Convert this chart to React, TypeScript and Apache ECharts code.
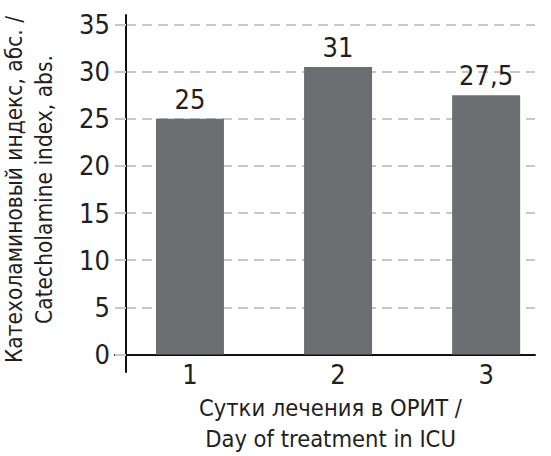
import React, { useEffect, useRef } from "react";
import * as echarts from "echarts";

const categories = ["1", "2", "3"];
const values = [25, 30.5, 27.5];
const valueLabels = ["25", "31", "27,5"];
const xName = "Сутки лечения в ОРИТ /\nDay of treatment in ICU";
const yName = "Катехоламиновый индекс, абс. /\nCatecholamine index, abs.";

const FONT = "'Liberation Sans Narrow', 'DejaVu Sans Condensed', sans-serif";
const TEXT = "#231f20";

export default function App() {
  const ref = useRef<HTMLDivElement>(null);
  useEffect(() => {
    if (!ref.current) return;
    const chart = echarts.init(ref.current, undefined, { renderer: "svg" });
    const positions = categories.map((_, i) => i + 1);
    chart.setOption({
      animation: false,
      textStyle: { fontFamily: FONT, color: TEXT },
      grid: [
        { left: 126, right: 16, top: 24.5, bottom: 101.5, outerBoundsMode: "none", containLabel: false },
        { left: 126, right: 16, top: 15, bottom: 84, outerBoundsMode: "none", containLabel: false },
        { left: 115, right: 16, top: 24.5, bottom: 101.5, outerBoundsMode: "none", containLabel: false },
      ],
      xAxis: [
        {
          type: "value",
          gridIndex: 0,
          min: 0.568,
          max: 3.33,
          splitLine: { show: false },
          axisLine: { show: false },
          axisTick: { show: false },
          axisLabel: {
            customValues: positions,
            formatter: (v: number) => categories[Math.round(v) - 1] ?? "",
            fontSize: 27,
            fontFamily: FONT,
            color: TEXT,
            margin: 6,
          },
          name: xName,
          nameLocation: "middle",
          nameGap: 35,
          nameTextStyle: { fontSize: 23.5, fontFamily: FONT, color: TEXT, lineHeight: 31 },
        },
        { type: "value", gridIndex: 1, show: false, min: 0, max: 1 },
        {
          type: "value",
          gridIndex: 2,
          min: 0,
          max: 1,
          axisLine: { show: true, onZero: false, lineStyle: { color: "#111", width: 2 } },
          axisTick: { show: false },
          axisLabel: { show: false },
          splitLine: { show: false },
        },
      ],
      yAxis: [
        {
          type: "value",
          gridIndex: 0,
          min: 0,
          max: 35,
          interval: 5,
          axisLine: { show: false },
          axisTick: { show: true, length: 11, lineStyle: { color: "#c8c8c8", width: 2 } },
          splitLine: { show: true, lineStyle: { color: "#c8c8c8", width: 2, type: [10, 6] } },
          axisLabel: { fontSize: 27, fontFamily: FONT, color: TEXT, margin: 16 },
          name: yName,
          nameLocation: "middle",
          nameRotate: 90,
          nameGap: 67,
          nameTextStyle: { fontSize: 22.5, fontFamily: FONT, color: TEXT, lineHeight: 30 },
        },
        {
          type: "value",
          gridIndex: 1,
          min: 0,
          max: 1,
          axisLine: { show: true, onZero: false, lineStyle: { color: "#111", width: 2 } },
          axisTick: { show: false },
          axisLabel: { show: false },
          splitLine: { show: false },
        },
        { type: "value", gridIndex: 2, show: false, min: 0, max: 1 },
      ],
      series: [
        {
          type: "bar",
          xAxisIndex: 0,
          yAxisIndex: 0,
          barWidth: 68,
          data: values.map((v, i) => [positions[i], v]),
          itemStyle: { color: "#6d6e71" },
          label: {
            show: true,
            position: "top",
            distance: 6,
            fontSize: 27,
            fontFamily: FONT,
            color: TEXT,
            formatter: (p: any) => valueLabels[p.dataIndex],
          },
          z: 3,
        },
      ],
    });
    return () => chart.dispose();
  }, []);
  return <div ref={ref} style={{ width: 551, height: 456, position: "absolute", left: 0, top: 0 }} />;
}
